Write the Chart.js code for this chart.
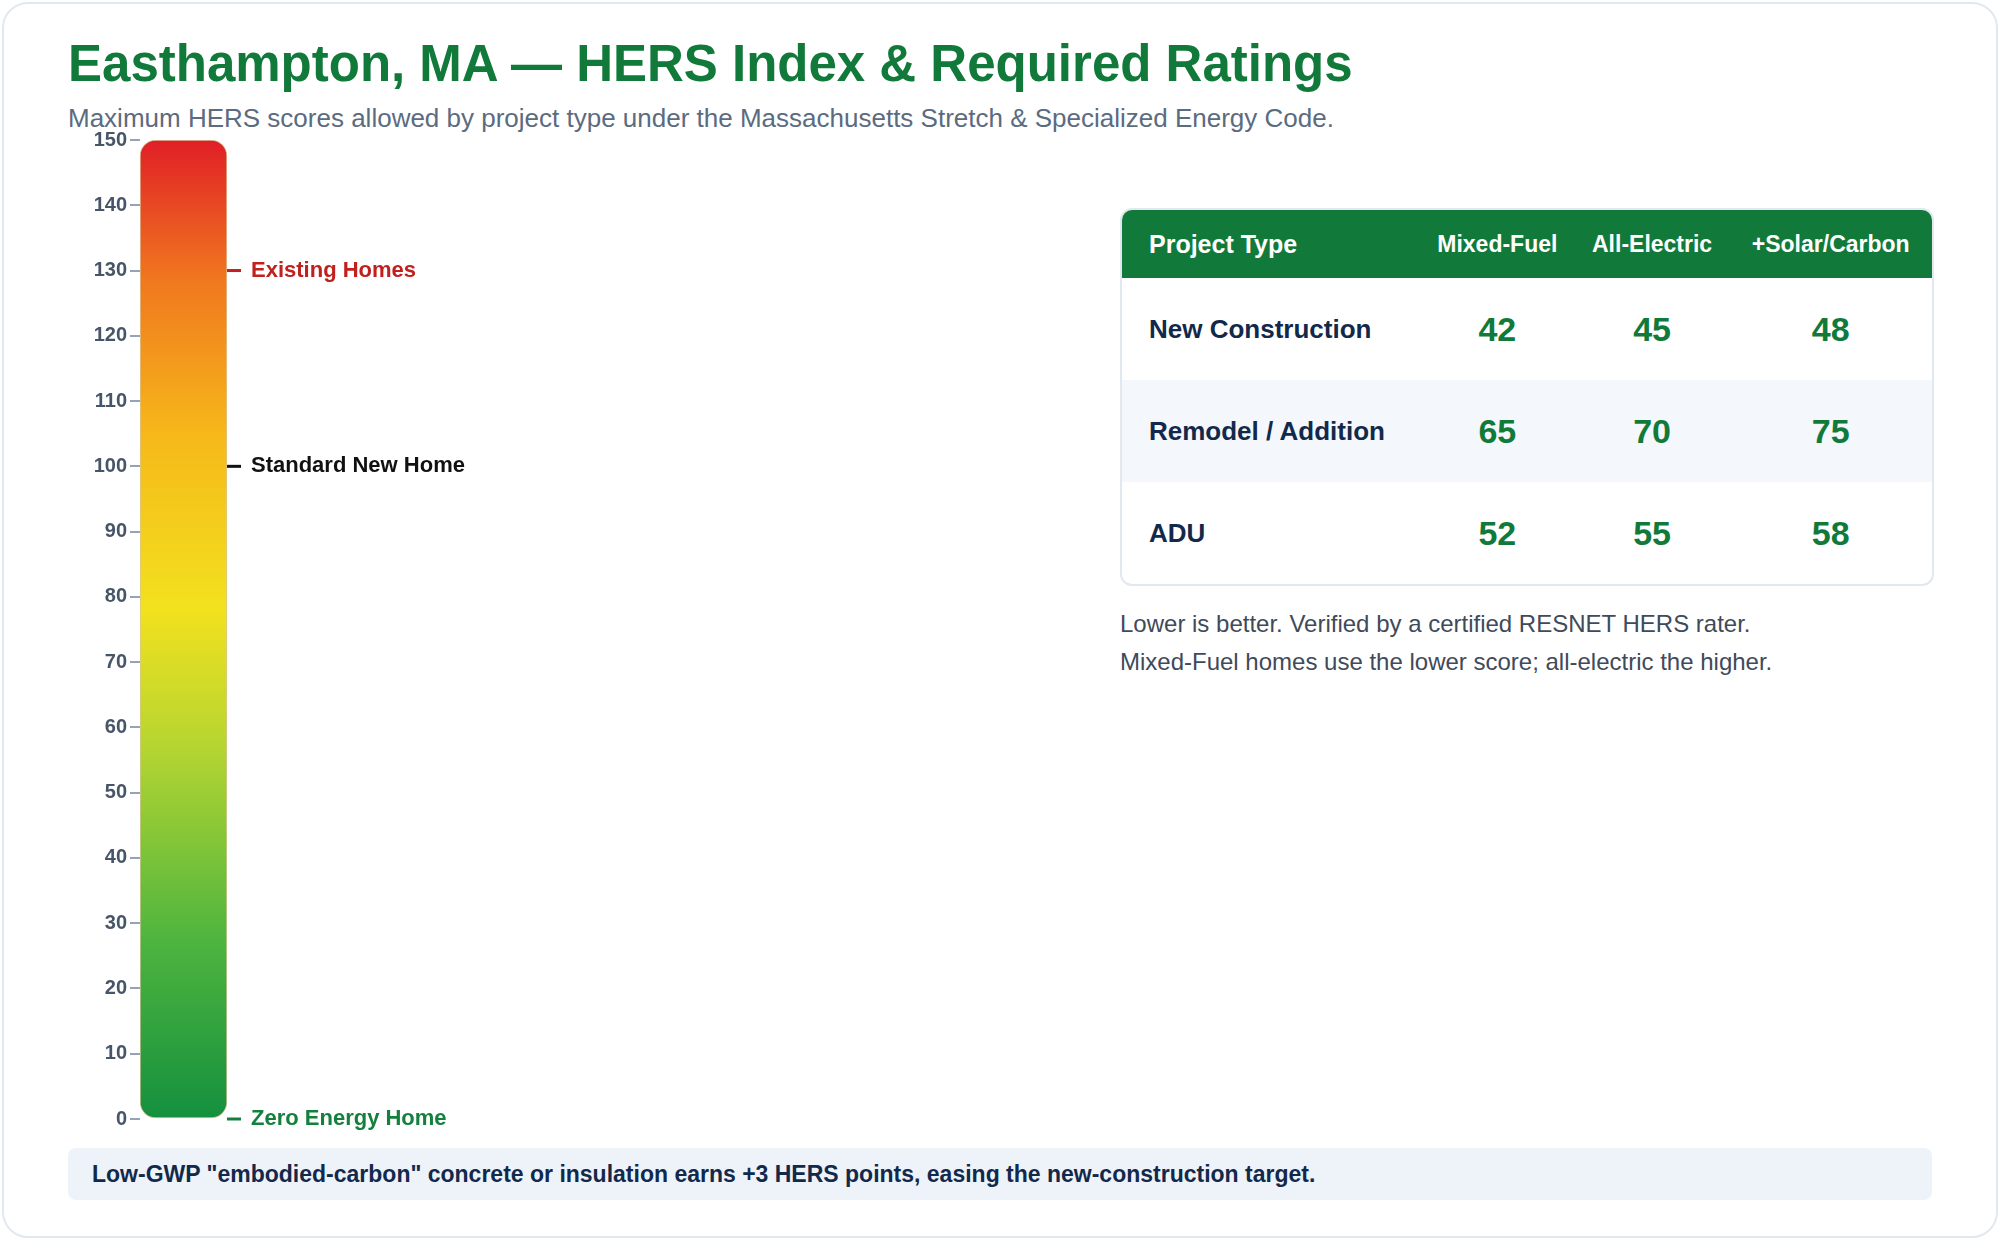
<!DOCTYPE html>
<html>
<head>
<meta charset="utf-8">
<script src="https://cdn.jsdelivr.net/npm/chart.js@4.4.1/dist/chart.umd.min.js"></script>
<style>
  html, body { margin: 0; padding: 0; background: #fff; }
  body { width: 2000px; height: 1240px; position: relative; font-family: "Liberation Sans", Arial, sans-serif; overflow: hidden; }
  .card { position: absolute; left: 2px; top: 2px; width: 1992px; height: 1232px; border: 2px solid #e2e8f0; border-radius: 26px; }
  h1 { position: absolute; left: 68px; top: 34px; margin: 0; font-size: 51px; font-weight: bold; color: #117a3a; }
  .sub { position: absolute; left: 68px; top: 103px; font-size: 26px; color: #5b6b80; }
  #wrap { position: absolute; left: 68px; top: 120px; width: 600px; height: 1020px; }
  .tbl { position: absolute; left: 1120px; top: 208px; width: 810px; border: 2px solid #e2e8f0; border-radius: 12px; overflow: hidden; }
  table { border-collapse: collapse; width: 100%; }
  th { background: #117a3a; color: #fff; font-size: 23px; height: 66px; font-weight: bold; }
  th.pt { font-size: 25px; }
  td { height: 100px; font-size: 34px; font-weight: bold; color: #117a3a; text-align: center; }
  td.name { font-size: 26px; color: #13294b; text-align: left; padding-left: 27px; }
  th.pt { text-align: left; padding-left: 27px; }
  tr.alt td { background: #f4f7fb; }
  .note { position: absolute; left: 1120px; top: 605px; font-size: 24px; color: #3f4a5a; line-height: 38px; }
  .foot { position: absolute; left: 68px; top: 1148px; width: 1864px; height: 52px; background: #eef3f9; border-radius: 8px; font-size: 23px; font-weight: bold; color: #13294b; line-height: 52px; padding-left: 24px; box-sizing: border-box; }
</style>
</head>
<body>
<div class="card"></div>
<h1>Easthampton, MA — HERS Index &amp; Required Ratings</h1>
<div class="sub">Maximum HERS scores allowed by project type under the Massachusetts Stretch &amp; Specialized Energy Code.</div>
<div id="wrap"><canvas id="hers"></canvas></div>
<div class="tbl"><table id="ratings"></table></div>
<div class="note">Lower is better. Verified by a certified RESNET HERS rater.<br>Mixed-Fuel homes use the lower score; all-electric the higher.</div>
<div class="foot">Low-GWP "embodied-carbon" concrete or insulation earns +3 HERS points, easing the new-construction target.</div>
<script>
// scale data
const scaleMin = 0;
const scaleMax = 150;
const tickStep = 10;

// markers on the scale
const markerValues = [130, 100, 0];
const markerLabels = ['Existing Homes', 'Standard New Home', 'Zero Energy Home'];
const markerColors = ['#c0201e', '#111111', '#15803d'];

// table data
const projectTypes = ['New Construction', 'Remodel / Addition', 'ADU'];
const columns = ['Mixed-Fuel', 'All-Electric', '+Solar/Carbon'];
const mixedFuel = [42, 65, 52];
const allElectric = [45, 70, 55];
const solarCarbon = [48, 75, 58];

// build table
const tbl = document.getElementById('ratings');
let html = '<tr><th class="pt">Project Type</th>' + columns.map(c => '<th>' + c + '</th>').join('') + '</tr>';
projectTypes.forEach((p, i) => {
  html += '<tr class="' + (i === 1 ? 'alt' : '') + '"><td class="name">' + p + '</td><td>' + mixedFuel[i] + '</td><td>' + allElectric[i] + '</td><td>' + solarCarbon[i] + '</td></tr>';
});
tbl.innerHTML = html;
document.querySelectorAll('th')[0].style.width = '270px';

// marker dashes + labels to the right of the bar
const markerPlugin = {
  id: 'markers',
  afterDatasetsDraw(chart) {
    const { ctx, chartArea, scales } = chart;
    ctx.save();
    markerValues.forEach((v, i) => {
      const y = scales.y.getPixelForValue(v);
      ctx.strokeStyle = markerColors[i];
      ctx.lineWidth = 3;
      ctx.beginPath();
      ctx.moveTo(chartArea.right, y);
      ctx.lineTo(chartArea.right + 14, y);
      ctx.stroke();
      ctx.fillStyle = markerColors[i];
      ctx.font = 'bold 22px "Liberation Sans", Arial, sans-serif';
      ctx.textBaseline = 'middle';
      ctx.fillText(markerLabels[i], chartArea.right + 24, y);
    });
    ctx.restore();
  }
};

function barGradient(ctx) {
  const area = ctx.chart.chartArea;
  if (!area) return '#f5a31a';
  const g = ctx.chart.ctx.createLinearGradient(0, area.bottom, 0, area.top);
  g.addColorStop(0, '#14903e');
  g.addColorStop(0.18, '#4db43f');
  g.addColorStop(0.38, '#b5d531');
  g.addColorStop(0.52, '#f2e11e');
  g.addColorStop(0.7, '#f6b81a');
  g.addColorStop(0.86, '#f0761f');
  g.addColorStop(1, '#e01f26');
  return g;
}

new Chart(document.getElementById('hers'), {
  type: 'bar',
  data: {
    labels: ['HERS'],
    datasets: [{
      data: [[scaleMin, scaleMax]],
      backgroundColor: barGradient,
      borderColor: 'rgba(180,140,60,0.5)',
      borderWidth: 1,
      borderSkipped: false,
      borderRadius: 16,
      barPercentage: 1,
      categoryPercentage: 1
    }]
  },
  options: {
    responsive: true,
    maintainAspectRatio: false,
    animation: false,
    layout: { padding: { top: 20, bottom: 21, right: 441, left: 0 } },
    plugins: { legend: { display: false }, tooltip: { enabled: false } },
    scales: {
      x: { display: false },
      y: {
        min: scaleMin, max: scaleMax,
        afterFit(s) { s.width = 72; },
        border: { display: false },
        grid: { drawOnChartArea: false, tickLength: 10, color: '#94a3b8', lineWidth: 2 },
        ticks: { stepSize: tickStep, color: '#475569', font: { size: 20, weight: 'bold', family: '"Liberation Sans", Arial, sans-serif' } }
      }
    }
  },
  plugins: [markerPlugin]
});
</script>
</body>
</html>
